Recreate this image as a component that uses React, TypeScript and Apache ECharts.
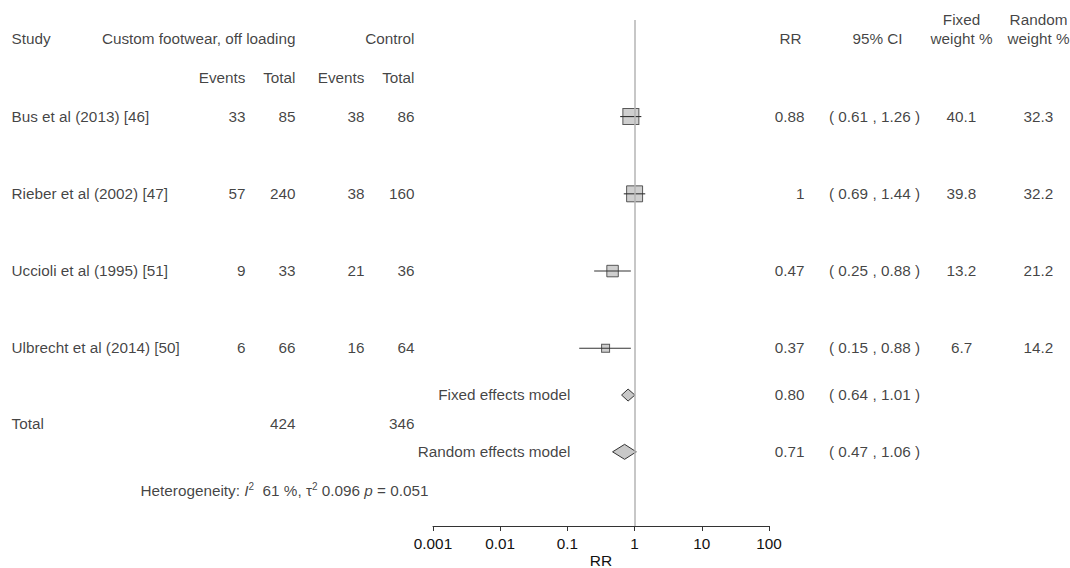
import React, { useEffect, useRef } from "react";
import * as echarts from "echarts";

// ---------- data ----------
const studies = [
  "Bus et al (2013) [46]",
  "Rieber et al (2002) [47]",
  "Uccioli et al (1995) [51]",
  "Ulbrecht et al (2014) [50]",
];
const expEvents = [33, 57, 9, 6];
const expTotal = [85, 240, 33, 66];
const ctrlEvents = [38, 38, 21, 16];
const ctrlTotal = [86, 160, 36, 64];
const rr = [0.88, 1, 0.47, 0.37];
const ciLow = [0.61, 0.69, 0.25, 0.15];
const ciHigh = [1.26, 1.44, 0.88, 0.88];
const weightFixed = [40.1, 39.8, 13.2, 6.7];
const weightRandom = [32.3, 32.2, 21.2, 14.2];

const summaryLabels = ["Fixed effects model", "Random effects model"];
const summaryRR = [0.8, 0.71];
const summaryLow = [0.64, 0.47];
const summaryHigh = [1.01, 1.06];

const totalExp = 424;
const totalCtrl = 346;
const hetI2 = 61;
const hetTau2 = 0.096;
const hetP = 0.051;

const tickLabels = ["0.001", "0.01", "0.1", "1", "10", "100"];

// ---------- layout ----------
const FONT = '"Liberation Sans", Arial, Helvetica, sans-serif';
const TXT = "#111";
const FS = 15.3;
const COL = {
  name: 12,
  expEv: 246,
  expTot: 296,
  ctrlEv: 365,
  ctrlTot: 415,
  rrHead: 802,
  rr: 805,
  ci: 875,
  ciHead: 878,
  wf: 962,
  wr: 1039,
  het: 141,
  model: 571,
};
const studyLine = (i: number) => 2 + 2 * i;
const summaryLine = [9.21, 10.68];
const totalLine = 9.95;
const hetLine = 11.69;
const diamondHalf = [6, 7.5];

const fmtRR = (v: number) => (Number.isInteger(v) ? String(v) : v.toFixed(2));
const fmtCI = (a: number, b: number) => `( ${a.toFixed(2)} , ${b.toFixed(2)} )`;

type T = { x: number; y: number; text: string; align: "left" | "right" | "center" };

function buildTexts(): T[] {
  const t: T[] = [];
  // header
  t.push({ x: COL.name, y: 0, text: "Study", align: "left" });
  t.push({ x: COL.expTot, y: 0, text: "Custom footwear, off loading", align: "right" });
  t.push({ x: COL.ctrlTot, y: 0, text: "Control", align: "right" });
  t.push({ x: COL.expEv, y: 1, text: "Events", align: "right" });
  t.push({ x: COL.expTot, y: 1, text: "Total", align: "right" });
  t.push({ x: COL.ctrlEv, y: 1, text: "Events", align: "right" });
  t.push({ x: COL.ctrlTot, y: 1, text: "Total", align: "right" });
  t.push({ x: COL.rrHead, y: 0, text: "RR", align: "right" });
  t.push({ x: COL.ciHead, y: 0, text: "95% CI", align: "center" });
  t.push({ x: COL.wf, y: -0.5, text: "Fixed", align: "center" });
  t.push({ x: COL.wf, y: 0, text: "weight %", align: "center" });
  t.push({ x: COL.wr, y: -0.5, text: "Random", align: "center" });
  t.push({ x: COL.wr, y: 0, text: "weight %", align: "center" });
  // studies
  studies.forEach((s, i) => {
    const y = studyLine(i);
    t.push({ x: COL.name, y, text: s, align: "left" });
    t.push({ x: COL.expEv, y, text: String(expEvents[i]), align: "right" });
    t.push({ x: COL.expTot, y, text: String(expTotal[i]), align: "right" });
    t.push({ x: COL.ctrlEv, y, text: String(ctrlEvents[i]), align: "right" });
    t.push({ x: COL.ctrlTot, y, text: String(ctrlTotal[i]), align: "right" });
    t.push({ x: COL.rr, y, text: fmtRR(rr[i]), align: "right" });
    t.push({ x: COL.ci, y, text: fmtCI(ciLow[i], ciHigh[i]), align: "center" });
    t.push({ x: COL.wf, y, text: weightFixed[i].toFixed(1), align: "center" });
    t.push({ x: COL.wr, y, text: weightRandom[i].toFixed(1), align: "center" });
  });
  // summaries
  summaryLabels.forEach((s, i) => {
    const y = summaryLine[i];
    t.push({ x: COL.model, y, text: s, align: "right" });
    t.push({ x: COL.rr, y, text: summaryRR[i].toFixed(2), align: "right" });
    t.push({ x: COL.ci, y, text: fmtCI(summaryLow[i], summaryHigh[i]), align: "center" });
  });
  t.push({ x: COL.name, y: totalLine, text: "Total", align: "left" });
  t.push({ x: COL.expTot, y: totalLine, text: String(totalExp), align: "right" });
  t.push({ x: COL.ctrlTot, y: totalLine, text: String(totalCtrl), align: "right" });
  t.push({
    x: COL.het,
    y: hetLine,
    text: `Heterogeneity: {i|I}{sup|2}  ${hetI2} %, \u03c4{sup|2} ${hetTau2} {i|p} = ${hetP}`,
    align: "left",
  });
  return t;
}

export default function App() {
  const ref = useRef<HTMLDivElement>(null);
  useEffect(() => {
    if (!ref.current) return;
    const chart = echarts.init(ref.current, undefined, { renderer: "svg" });
    const texts = buildTexts();
    const Y0 = -0.5;
    const Y1 = 12.6;

    const option: any = {
      animation: false,
      textStyle: { fontFamily: FONT },
      grid: [
        { left: 433, right: 301, top: 20, bottom: 42, containLabel: false, outerBoundsMode: "none" },
        { left: 0, right: 0, top: 20, bottom: 42, containLabel: false, outerBoundsMode: "none" },
      ],
      xAxis: [
        {
          type: "log",
          logBase: 10,
          min: 0.001,
          max: 100,
          gridIndex: 0,
          axisLine: { show: true, onZero: false, lineStyle: { color: "#333", width: 1 } },
          axisTick: { show: true, length: 5, lineStyle: { color: "#333" } },
          axisLabel: {
            fontSize: FS,
            color: TXT,
            margin: 10,
            fontFamily: FONT,
            formatter: (v: number) => tickLabels[Math.round(Math.log10(v)) + 3],
          },
          splitLine: { show: false },
          minorTick: { show: false },
          name: "RR",
          nameLocation: "middle",
          nameGap: 26,
          nameMoveOverlap: false,
          nameTextStyle: { fontSize: 15.5, lineHeight: 16, color: TXT, fontFamily: FONT },
        },
        { type: "value", gridIndex: 1, min: 0, max: 1070, show: false },
      ],
      yAxis: [
        { type: "value", gridIndex: 0, min: Y0, max: Y1, inverse: true, show: false },
        { type: "value", gridIndex: 1, min: Y0, max: Y1, inverse: true, show: false },
      ],
      series: [
        // study squares
        {
          type: "scatter",
          xAxisIndex: 0,
          yAxisIndex: 0,
          symbol: "rect",
          symbolSize: (v: number[]) => 4.19 * Math.sqrt(v[2]) - 7.8,
          itemStyle: { color: "#c3c3c3", borderColor: "#333", borderWidth: 1 },
          data: rr.map((v, i) => [v, studyLine(i), weightRandom[i]]),
          silent: true,
          z: 2,
        },
        // CI lines
        {
          type: "custom",
          xAxisIndex: 0,
          yAxisIndex: 0,
          coordinateSystem: "cartesian2d",
          encode: { x: [0, 1], y: 2 },
          data: ciLow.map((lo, i) => [lo, ciHigh[i], studyLine(i)]),
          renderItem: (params: any, api: any) => {
            const p1 = api.coord([api.value(0), api.value(2)]);
            const p2 = api.coord([api.value(1), api.value(2)]);
            return {
              type: "line",
              shape: { x1: p1[0], y1: p1[1], x2: p2[0], y2: p2[1] },
              style: { stroke: "#333", lineWidth: 1.1 },
            };
          },
          silent: true,
          z: 3,
        },
        // summary diamonds
        {
          type: "custom",
          xAxisIndex: 0,
          yAxisIndex: 0,
          coordinateSystem: "cartesian2d",
          encode: { x: [0, 1, 2], y: 3 },
          data: summaryRR.map((v, i) => [v, summaryLow[i], summaryHigh[i], summaryLine[i]]),
          renderItem: (params: any, api: any) => {
            const y = api.value(3);
            const c = api.coord([api.value(0), y]);
            const l = api.coord([api.value(1), y]);
            const r = api.coord([api.value(2), y]);
            const h = diamondHalf[params.dataIndex];
            return {
              type: "polygon",
              shape: {
                points: [
                  [l[0], c[1]],
                  [c[0], c[1] - h],
                  [r[0], c[1]],
                  [c[0], c[1] + h],
                ],
              },
              style: { fill: "#c8c8c8", stroke: "#333", lineWidth: 1 },
            };
          },
          silent: true,
          z: 2,
        },
        // reference line at RR = 1
        {
          type: "scatter",
          xAxisIndex: 0,
          yAxisIndex: 0,
          data: [],
          silent: true,
          z: 4,
          markLine: {
            silent: true,
            symbol: ["none", "none"],
            label: { show: false },
            lineStyle: { color: "#b5b5b5", width: 1.5, type: "solid" },
            data: [{ xAxis: 1 }],
            z: 4,
          },
        },
        // table texts
        {
          type: "scatter",
          xAxisIndex: 1,
          yAxisIndex: 1,
          symbolSize: 1,
          itemStyle: { color: "rgba(0,0,0,0)" },
          silent: true,
          z: 5,
          label: {
            show: true,
            position: [0, 0],
            verticalAlign: "middle",
            fontSize: FS,
            color: TXT,
            fontFamily: FONT,
            rich: {
              i: { fontStyle: "italic", fontSize: FS, color: TXT, fontFamily: FONT },
              sup: { fontSize: 10, color: TXT, fontFamily: FONT, padding: [0, 0, 8, 0] },
            },
          },
          data: texts.map((t) => ({
            value: [t.x, t.y],
            label: { formatter: t.text, align: t.align },
          })),
        },
      ],
    };
    chart.setOption(option);
    return () => chart.dispose();
  }, []);

  return (
    <div
      ref={ref}
      style={{ position: "fixed", left: 0, top: 0, width: 1070, height: 568, background: "#fff" }}
    />
  );
}
